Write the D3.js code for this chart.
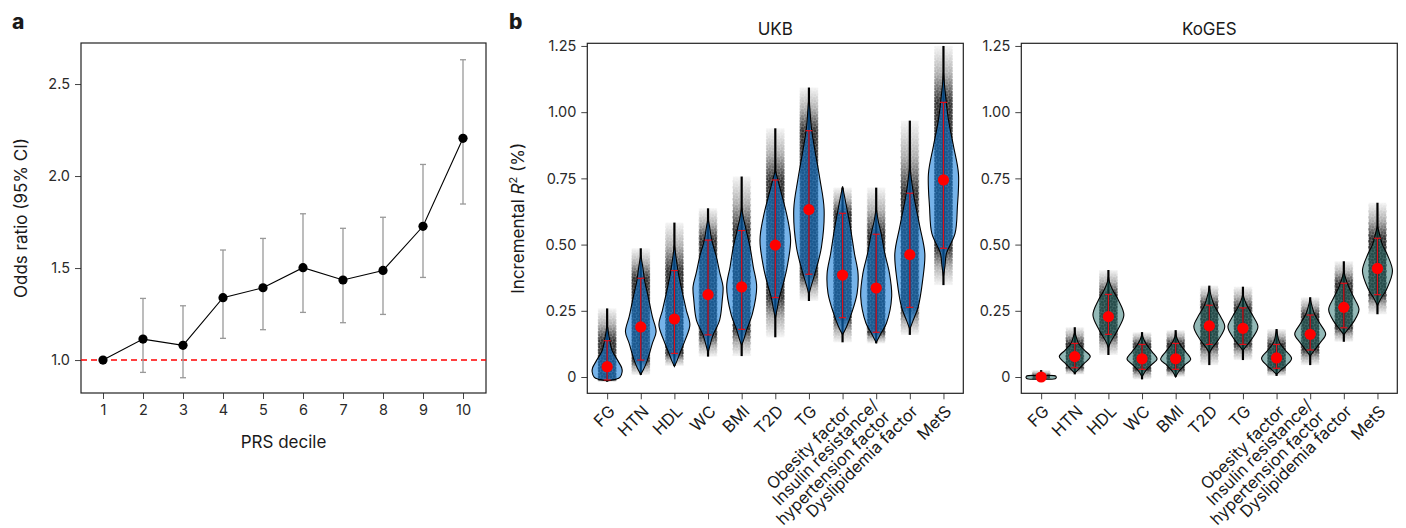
<!DOCTYPE html>
<html>
<head>
<meta charset="utf-8">
<script src="https://d3js.org/d3.v7.min.js"></script>
<style>
  body { margin: 0; background: #fff; }
  svg text { font-family: Inter, "Open Sans", sans-serif; fill: #1a1a1a; }
  .tick text { font-size: 14.5px; fill: #2a2a2a; }
  .tick line, .domain { stroke: #444; }
</style>
</head>
<body>
<script>
// ---- panel a data: odds ratio per PRS decile
var deciles = [1, 2, 3, 4, 5, 6, 7, 8, 9, 10];
var oddsRatio = [1.0, 1.114, 1.08, 1.339, 1.393, 1.502, 1.435, 1.487, 1.727, 2.205];
var ciLow  = [null, 0.933, 0.904, 1.118, 1.165, 1.259, 1.203, 1.248, 1.449, 1.848];
var ciHigh = [null, 1.335, 1.295, 1.598, 1.661, 1.795, 1.716, 1.776, 2.063, 2.632];
var orTicks = [1.0, 1.5, 2.0, 2.5];

// ---- panel b data: incremental R2 (%)
var traits = ["FG", "HTN", "HDL", "WC", "BMI", "T2D", "TG", "Obesity factor",
  "Insulin resistance/hypertension factor", "Dyslipidemia factor", "MetS"];
var traitLabels = [["FG"], ["HTN"], ["HDL"], ["WC"], ["BMI"], ["T2D"], ["TG"], ["Obesity factor"],
  ["Insulin resistance/", "hypertension factor"], ["Dyslipidemia factor"], ["MetS"]];
var r2Ticks = [0, 0.25, 0.5, 0.75, 1.0, 1.25];

var ukbMedian  = [0.039, 0.189, 0.219, 0.311, 0.340, 0.498, 0.632, 0.385, 0.336, 0.462, 0.744];
var ukbBarLow  = [-0.011, 0.064, 0.089, 0.159, 0.180, 0.300, 0.388, 0.224, 0.169, 0.263, 0.486];
var ukbBarHigh = [0.137, 0.373, 0.402, 0.517, 0.553, 0.744, 0.930, 0.618, 0.539, 0.694, 1.037];
var ukbMin     = [-0.018, 0.008, 0.042, 0.077, 0.079, 0.150, 0.287, 0.131, 0.127, 0.159, 0.347];
var ukbMax     = [0.259, 0.486, 0.583, 0.637, 0.757, 0.939, 1.093, 0.715, 0.715, 0.968, 1.250];
// violin outlines: [R2 value, relative density]
var ukbShape = [
  [[-0.014,0],[-0.008,0.58],[0.0,0.84],[0.02,0.97],[0.035,0.94],[0.06,0.71],[0.10,0.32],[0.14,0.16],[0.18,0.05],[0.2,0]],
  [[0.01,0],[0.03,0.19],[0.064,0.43],[0.127,0.75],[0.171,0.99],[0.228,0.75],[0.303,0.48],[0.364,0.25],[0.415,0.13],[0.46,0]],
  [[0.04,0],[0.06,0.16],[0.089,0.35],[0.14,0.7],[0.196,1],[0.253,0.77],[0.328,0.48],[0.391,0.26],[0.454,0.1],[0.5,0]],
  [[0.09,0],[0.12,0.13],[0.158,0.32],[0.215,0.75],[0.291,0.92],[0.341,0.97],[0.391,0.77],[0.454,0.54],[0.517,0.24],[0.567,0.1],[0.6,0]],
  [[0.12,0],[0.14,0.13],[0.177,0.32],[0.24,0.7],[0.341,0.97],[0.416,0.75],[0.491,0.54],[0.555,0.29],[0.605,0.1],[0.64,0]],
  [[0.22,0],[0.26,0.13],[0.30,0.26],[0.354,0.52],[0.417,0.77],[0.517,0.99],[0.605,0.77],[0.694,0.39],[0.745,0.16],[0.78,0]],
  [[0.31,0],[0.34,0.13],[0.391,0.39],[0.491,0.81],[0.634,0.98],[0.747,0.71],[0.855,0.39],[0.94,0.16],[1.015,0.06],[1.06,0]],
  [[0.16,0],[0.19,0.26],[0.24,0.58],[0.316,0.94],[0.391,1],[0.466,0.77],[0.567,0.5],[0.642,0.26],[0.69,0.1],[0.72,0]],
  [[0.13,0],[0.16,0.26],[0.203,0.66],[0.303,1],[0.391,0.86],[0.466,0.56],[0.542,0.32],[0.59,0.13],[0.64,0]],
  [[0.18,0],[0.21,0.19],[0.265,0.54],[0.366,0.83],[0.466,0.97],[0.567,0.65],[0.683,0.26],[0.747,0.1],[0.8,0]],
  [[0.38,0],[0.42,0.1],[0.466,0.19],[0.542,0.75],[0.642,0.9],[0.768,0.97],[0.872,0.65],[0.973,0.32],[1.083,0.1],[1.15,0]]
];

var kogesMedian  = [0.0, 0.077, 0.228, 0.069, 0.069, 0.193, 0.184, 0.072, 0.161, 0.263, 0.410];
var kogesBarLow  = [-0.004, 0.035, 0.161, 0.029, 0.029, 0.123, 0.123, 0.033, 0.102, 0.186, 0.311];
var kogesBarHigh = [0.004, 0.127, 0.312, 0.123, 0.127, 0.271, 0.261, 0.123, 0.234, 0.354, 0.524];
var kogesMin     = [-0.011, 0.010, 0.083, -0.009, 0.001, 0.045, 0.064, 0.004, 0.045, 0.133, 0.237];
var kogesMax     = [0.026, 0.188, 0.404, 0.169, 0.177, 0.345, 0.341, 0.181, 0.301, 0.437, 0.658];
var kogesShape = [
  [[-0.007,0],[-0.005,0.95],[0.003,0.95],[0.005,0]],
  [[0.015,0],[0.03,0.26],[0.05,0.58],[0.077,1],[0.1,0.65],[0.125,0.26],[0.15,0.1],[0.17,0]],
  [[0.11,0],[0.13,0.13],[0.176,0.58],[0.234,1],[0.29,0.65],[0.33,0.26],[0.36,0.06],[0.38,0]],
  [[0.0,0],[0.02,0.19],[0.045,0.58],[0.068,0.97],[0.095,0.65],[0.125,0.26],[0.15,0.06],[0.17,0]],
  [[0.0,0],[0.02,0.19],[0.045,0.58],[0.066,0.97],[0.095,0.65],[0.125,0.26],[0.15,0.06],[0.17,0]],
  [[0.09,0],[0.11,0.19],[0.14,0.58],[0.19,1],[0.23,0.71],[0.27,0.32],[0.31,0.1],[0.34,0]],
  [[0.10,0],[0.12,0.26],[0.15,0.65],[0.19,0.97],[0.23,0.65],[0.27,0.26],[0.30,0.06],[0.32,0]],
  [[0.01,0],[0.025,0.26],[0.045,0.65],[0.07,0.97],[0.1,0.58],[0.13,0.19],[0.16,0.06],[0.18,0]],
  [[0.08,0],[0.1,0.26],[0.13,0.65],[0.162,1],[0.2,0.65],[0.24,0.26],[0.28,0.06],[0.3,0]],
  [[0.16,0],[0.18,0.26],[0.21,0.65],[0.255,0.98],[0.3,0.65],[0.34,0.32],[0.37,0.13],[0.4,0]],
  [[0.27,0],[0.3,0.26],[0.33,0.58],[0.4,0.97],[0.46,0.65],[0.5,0.32],[0.54,0.13],[0.57,0]]
];

var svg = d3.select("body").append("svg")
  .attr("width", 1406).attr("height", 528);
var defs = svg.append("defs");

// little dot texture for the jittered points
var pat = defs.append("pattern").attr("id", "dots")
  .attr("patternUnits", "userSpaceOnUse").attr("width", 6).attr("height", 6);
[[1.3,1.3],[4.3,2.2],[2.2,4.4],[5.2,5.0]].forEach(function(p) {
  pat.append("circle").attr("cx", p[0]).attr("cy", p[1]).attr("r", 1.4)
    .attr("fill", "#000").attr("fill-opacity", 0.5);
});

// ================= panel a =================
var a = { left: 81, right: 486, top: 43, bottom: 393 };
var xA = d3.scaleLinear().domain([0.45, 10.575]).range([a.left, a.right]);
var yA = d3.scaleLinear().domain([0.821, 2.723]).range([a.bottom, a.top]);

var gA = svg.append("g");
gA.append("g").attr("transform", "translate(0," + a.bottom + ")")
  .call(d3.axisBottom(xA).tickValues(deciles).tickSize(6).tickPadding(6).tickFormat(d3.format("d")))
  .call(function(g) { g.select(".domain").remove(); });
gA.append("g").attr("transform", "translate(" + a.left + ",0)")
  .call(d3.axisLeft(yA).tickValues(orTicks).tickSize(6).tickPadding(5).tickFormat(d3.format(".1f")))
  .call(function(g) { g.select(".domain").remove(); });
gA.append("rect").attr("x", a.left).attr("y", a.top)
  .attr("width", a.right - a.left).attr("height", a.bottom - a.top)
  .attr("fill", "none").attr("stroke", "#222").attr("stroke-width", 1.2);

gA.append("line").attr("x1", a.left).attr("x2", a.right)
  .attr("y1", yA(1)).attr("y2", yA(1))
  .attr("stroke", "#f00").attr("stroke-width", 1.5).attr("stroke-dasharray", "6,4");

deciles.forEach(function(d, i) {
  if (ciLow[i] === null) return;
  var cx = xA(d);
  gA.append("line").attr("x1", cx).attr("x2", cx).attr("y1", yA(ciLow[i])).attr("y2", yA(ciHigh[i]))
    .attr("stroke", "#999").attr("stroke-width", 1.3);
  [ciLow[i], ciHigh[i]].forEach(function(v) {
    gA.append("line").attr("x1", cx - 3).attr("x2", cx + 3).attr("y1", yA(v)).attr("y2", yA(v))
      .attr("stroke", "#999").attr("stroke-width", 1.3);
  });
});
gA.append("path").datum(deciles)
  .attr("d", d3.line().x(function(d) { return xA(d); }).y(function(d, i) { return yA(oddsRatio[i]); }))
  .attr("fill", "none").attr("stroke", "#000").attr("stroke-width", 1.1);
gA.selectAll(".orpt").data(deciles).enter().append("circle")
  .attr("cx", function(d) { return xA(d); })
  .attr("cy", function(d, i) { return yA(oddsRatio[i]); })
  .attr("r", 4.6).attr("fill", "#000");

gA.append("text").attr("x", (a.left + a.right) / 2).attr("y", 448)
  .attr("text-anchor", "middle").attr("font-size", 17).text("PRS decile");
gA.append("text").attr("transform", "translate(27," + (a.top + a.bottom) / 2 + ") rotate(-90)")
  .attr("text-anchor", "middle").attr("font-size", 17).text("Odds ratio (95% CI)");
svg.append("text").attr("x", 12).attr("y", 29).attr("font-size", 21).attr("font-weight", 800).text("a");
svg.append("text").attr("x", 509).attr("y", 29).attr("font-size", 21).attr("font-weight", 800).text("b");

// ================= panel b =================
var bTop = 43.3, bBottom = 393.3;
var yB = d3.scaleLinear().domain([-0.0615, 1.26]).range([bBottom, bTop]);

function violinPanel(opt) {
  var x = d3.scalePoint().domain(traits).range([opt.left, opt.right]).padding(0.59);
  var step = x.step();
  var w = d3.scaleLinear().domain([0, 1]).range([0, step * 0.46]);
  var g = svg.append("g");

  g.append("g").attr("transform", "translate(" + opt.left + ",0)")
    .call(d3.axisLeft(yB).tickValues(r2Ticks).tickSize(6).tickPadding(5)
      .tickFormat(function(d) { return d === 0 ? "0" : d3.format(".2f")(d); }))
    .call(function(s) { s.select(".domain").remove(); });
  g.append("g").attr("transform", "translate(0," + bBottom + ")")
    .call(d3.axisBottom(x).tickSize(6).tickFormat(""))
    .call(function(s) { s.select(".domain").remove(); });

  g.append("rect").attr("x", opt.left).attr("y", bTop)
    .attr("width", opt.right - opt.left).attr("height", bBottom - bTop)
    .attr("fill", "none").attr("stroke", "#222").attr("stroke-width", 1.2);

  traits.forEach(function(t, i) {
    var cx = x(t);
    var lab = traitLabels[i];
    var txt = g.append("text")
      .attr("transform", "translate(" + (cx + 5) + "," + (bBottom + 15) + ") rotate(-45)")
      .attr("text-anchor", "end").attr("font-size", 16.5);
    lab.forEach(function(line, k) {
      txt.append("tspan").attr("x", 0)
        .attr("dy", k === 0 ? (0.35 - (lab.length - 1) * 0.5) + "em" : "1.0em")
        .text(line);
    });

    var vMin = opt.min[i], vMax = opt.max[i];
    var y0 = yB(vMax), y1 = yB(vMin);
    var off = function(v) { return (yB(v) - y0) / Math.max(1, y1 - y0); };
    var gid = opt.id + "g" + i;
    var grad = defs.append("linearGradient").attr("id", gid)
      .attr("gradientUnits", "userSpaceOnUse").attr("x1", 0).attr("x2", 0).attr("y1", y0).attr("y2", y1);
    [[vMax, 0.05], [(vMax + opt.hi[i]) / 2, 0.4], [opt.hi[i], 1], [opt.lo[i], 1],
     [(vMin + opt.lo[i]) / 2, 0.4], [vMin, 0.05]].forEach(function(s) {
      grad.append("stop").attr("offset", Math.min(1, Math.max(0, off(s[0]))))
        .attr("stop-color", "#fff").attr("stop-opacity", s[1]);
    });
    var mask = defs.append("mask").attr("id", opt.id + "m" + i)
      .attr("maskUnits", "userSpaceOnUse").attr("x", 0).attr("y", 0).attr("width", 1406).attr("height", 528);
    mask.append("rect").attr("x", cx - step * 0.3).attr("y", y0 - 2)
      .attr("width", step * 0.6).attr("height", y1 - y0 + 4).attr("fill", "url(#" + gid + ")");

    // jittered point cloud
    var cloud = g.append("g").attr("mask", "url(#" + opt.id + "m" + i + ")");
    cloud.append("rect").attr("x", cx - step * 0.26).attr("y", y0)
      .attr("width", step * 0.52).attr("height", y1 - y0)
      .attr("fill", "#000").attr("fill-opacity", 0.6);
    cloud.append("rect").attr("x", cx - step * 0.28).attr("y", y0)
      .attr("width", step * 0.56).attr("height", y1 - y0)
      .attr("fill", "url(#dots)");

    // range line
    g.append("line").attr("x1", cx).attr("x2", cx).attr("y1", yB(vMin)).attr("y2", yB(vMax))
      .attr("stroke", "#000").attr("stroke-width", 2.2);

    // violin
    var area = d3.area().curve(d3.curveCatmullRom)
      .y(function(d) { return yB(d[0]); })
      .x0(function(d) { return cx - w(d[1]); })
      .x1(function(d) { return cx + w(d[1]); });
    g.append("path").datum(opt.shape[i]).attr("d", area)
      .attr("fill", opt.fill).attr("fill-opacity", opt.alpha)
      .attr("stroke", "#000").attr("stroke-width", 1.1);

    // red interval + median
    g.append("line").attr("x1", cx).attr("x2", cx).attr("y1", yB(opt.lo[i])).attr("y2", yB(opt.hi[i]))
      .attr("stroke", "#e0101a").attr("stroke-width", 1.2);
    [opt.lo[i], opt.hi[i]].forEach(function(v) {
      g.append("line").attr("x1", cx - 3.5).attr("x2", cx + 3.5).attr("y1", yB(v)).attr("y2", yB(v))
        .attr("stroke", "#e0101a").attr("stroke-width", 1.2);
    });
    g.append("circle").attr("cx", cx).attr("cy", yB(opt.med[i])).attr("r", 5.6).attr("fill", "#ff0000");
  });

  g.append("text").attr("x", (opt.left + opt.right) / 2).attr("y", 35)
    .attr("text-anchor", "middle").attr("font-size", 17).text(opt.title);
}

violinPanel({ id: "ukb", title: "UKB", left: 587.3, right: 963.3,
  med: ukbMedian, lo: ukbBarLow, hi: ukbBarHigh, min: ukbMin, max: ukbMax, shape: ukbShape,
  fill: "#0a78d8", alpha: 0.56 });
violinPanel({ id: "kog", title: "KoGES", left: 1021.3, right: 1397.3,
  med: kogesMedian, lo: kogesBarLow, hi: kogesBarHigh, min: kogesMin, max: kogesMax, shape: kogesShape,
  fill: "#1a6a66", alpha: 0.47 });

// y title of panel b
var yt = svg.append("text").attr("transform", "translate(524," + (bTop + bBottom) / 2 + ") rotate(-90)")
  .attr("text-anchor", "middle").attr("font-size", 17);
yt.append("tspan").text("Incremental ");
yt.append("tspan").attr("font-style", "italic").text("R");
yt.append("tspan").attr("font-size", 11).attr("dy", "-0.6em").text("2");
yt.append("tspan").attr("dy", "0.4em").text(" (%)");
</script>
</body>
</html>
